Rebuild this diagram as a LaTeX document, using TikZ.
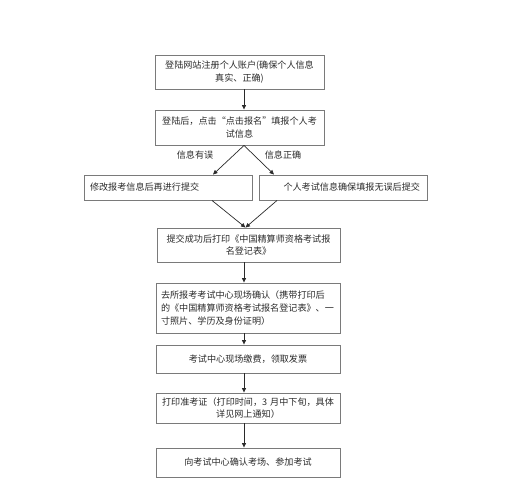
\documentclass[tikz,border=0pt]{standalone}
\usepackage{fontspec}
\newfontfamily\cjk{Noto Sans CJK SC}
\usetikzlibrary{arrows.meta}
\definecolor{boxGray}{HTML}{7A7A7A}
\definecolor{inkGray}{HTML}{2A2A2A}

\begin{document}
\begin{tikzpicture}[x=1pt,y=-1pt,
box/.style={draw=boxGray,line width=0.9pt,inner sep=0pt,text=inkGray,font=\cjk\fontsize{9.1}{12.8}\selectfont},
tag/.style={text=inkGray,font=\cjk\fontsize{9.1}{12.8}\selectfont},
arr/.style={draw=inkGray,line width=0.7pt,-{Triangle[length=4.5pt,width=4pt]}}]
\useasboundingbox (0,0) rectangle (505,500);
\coordinate (ax) at (244,0);
\node[box,minimum width=169pt,minimum height=34pt,text width=162pt,align=center] (b1) at (239.5,72)
  {登陆网站注册个人账户(确保个人信息\\真实、正确)};
\node[box,minimum width=169pt,minimum height=35pt,text width=162pt,align=center] (b2) at (239.5,127.5)
  {登陆后，点击“点击报名”填报个人考\\试信息};
\node[tag] (wrong) at (195,155) {信息有误};
\node[tag] (right) at (283,155) {信息正确};
\node[box,minimum width=168pt,minimum height=25pt,text width=156pt,align=left] (b3) at (168,187.5)
  {修改报考信息后再进行提交};
\node[box,minimum width=168pt,minimum height=25pt,text width=154pt,align=right] (b4) at (343,187.5)
  {个人考试信息确保填报无误后提交};
\node[box,minimum width=183pt,minimum height=34pt,text width=172pt,align=center] (b5) at (248.5,245)
  {提交成功后打印《中国精算师资格考试报\\名登记表》};
\node[box,minimum width=184pt,minimum height=50pt,text width=174pt,align=left] (b6) at (248,308)
  {去所报考考试中心现场确认（携带打印后\\的《中国精算师资格考试报名登记表》、一\\寸照片、学历及身份证明）};
\node[box,minimum width=184pt,minimum height=28pt,text width=172pt,align=center] (b7) at (248,359)
  {考试中心现场缴费，领取发票};
\node[box,minimum width=184pt,minimum height=30pt,text width=176pt,align=center] (b8) at (248,408)
  {打印准考证（打印时间，3 月中下旬，具体\\详见网上通知）};
\node[box,minimum width=184pt,minimum height=29pt,text width=172pt,align=center] (b9) at (248,462.5)
  {向考试中心确认考场、参加考试};
% connectors
\draw[arr] (b1.south -| ax) -- (b2.north -| ax);
\draw[arr] (b2.south -| ax) -- ([xshift=45pt]b3.north);
\draw[arr] (b2.south -| ax) -- ([xshift=-69pt]b4.north);
\draw[arr] ([xshift=44pt]b3.south) -- ([xshift=-3pt]b5.north);
\draw[arr] ([xshift=-66pt]b4.south) -- ([xshift=-3pt]b5.north);
\draw[arr] (b5.south -| ax) -- (b6.north -| ax);
\draw[arr] (b6.south -| ax) -- (b7.north -| ax);
\draw[arr] (b7.south -| ax) -- (b8.north -| ax);
\draw[arr] (b8.south -| ax) -- (b9.north -| ax);
\end{tikzpicture}
\end{document}
